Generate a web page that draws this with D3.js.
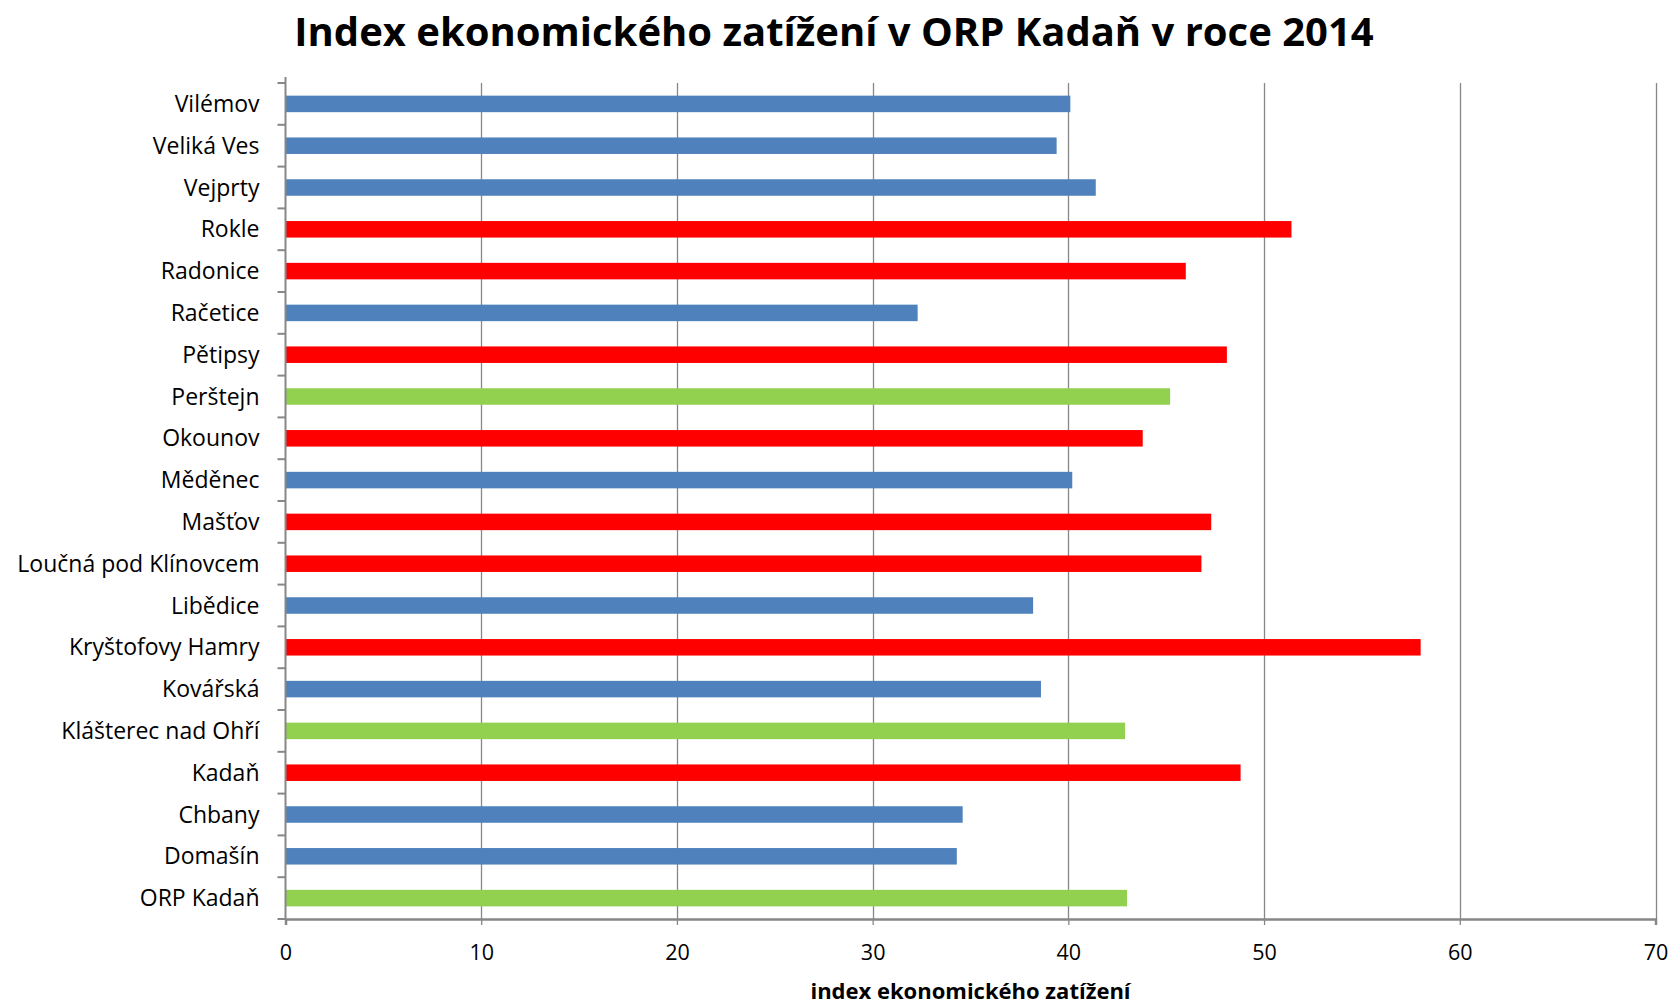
<!DOCTYPE html>
<html><head><meta charset="utf-8">
<script src="https://cdn.jsdelivr.net/npm/d3@7/dist/d3.min.js"></script>
<style>
html,body{margin:0;padding:0;background:#fff;}
svg{display:block;}
text{font-family:"Open Sans",Lato,sans-serif;fill:#000;}
</style></head><body>
<svg id="c" width="1673" height="1005"></svg>
<script>
const categories = ["Vilémov","Veliká Ves","Vejprty","Rokle","Radonice","Račetice","Pětipsy","Perštejn","Okounov","Měděnec","Mašťov","Loučná pod Klínovcem","Libědice","Kryštofovy Hamry","Kovářská","Klášterec nad Ohří","Kadaň","Chbany","Domašín","ORP Kadaň"];
const values = [40.1,39.4,41.4,51.4,46.0,32.3,48.1,45.2,43.8,40.2,47.3,46.8,38.2,58.0,38.6,42.9,48.8,34.6,34.3,43.0];
const groups = ["low","low","low","high","high","low","high","orp","high","low","high","high","low","high","low","orp","high","low","low","orp"];
const groupNames = ["low","high","orp"];
const groupColors = ["#4F81BD","#FF0000","#92D050"];
const xTicks = [0,10,20,30,40,50,60,70];
const title = "Index ekonomického zatížení v ORP Kadaň v roce 2014";
const xTitle = "index ekonomického zatížení";

const svg = d3.select("#c");
const m = {left:285.5, right:1655.5, top:83, bottom:919};
const x = d3.scaleLinear().domain([0,70]).range([m.left,m.right]);
const y = d3.scaleBand().domain(categories).range([m.top,m.bottom]).paddingInner(0.605).paddingOuter(0.3025);
const color = d3.scaleOrdinal().domain(groupNames).range(groupColors);

// gridlines
svg.append("g").selectAll("line").data(xTicks.slice(1)).join("line")
  .attr("x1",d=>Math.round(x(d))+0.5).attr("x2",d=>Math.round(x(d))+0.5)
  .attr("y1",m.top).attr("y2",m.bottom)
  .attr("stroke","#878787").attr("stroke-width",1.3);

// bars
svg.append("g").selectAll("rect").data(categories).join("rect")
  .attr("x",x(0)).attr("y",d=>y(d))
  .attr("width",(d,i)=>x(values[i])-x(0))
  .attr("height",y.bandwidth())
  .attr("fill",(d,i)=>color(groups[i]));

// y axis
const yAxisG = svg.append("g").attr("transform",`translate(${m.left},0)`);
yAxisG.append("line").attr("x1",0).attr("x2",0).attr("y1",m.top-6).attr("y2",m.bottom)
  .attr("stroke","#878787").attr("stroke-width",2);
const bounds = d3.range(categories.length+1).map(i=>m.top + i*(m.bottom-m.top)/categories.length);
yAxisG.selectAll("line.tk").data(bounds).join("line").attr("class","tk")
  .attr("x1",-8).attr("x2",0).attr("y1",d=>d).attr("y2",d=>d)
  .attr("stroke","#878787").attr("stroke-width",2);
yAxisG.selectAll("text").data(categories).join("text")
  .attr("x",-26).attr("y",d=>y(d)+y.bandwidth()/2)
  .attr("dy","0.35em").attr("text-anchor","end")
  .style("font-size","23px").text(d=>d);

// x axis
const xAxis = d3.axisBottom(x).tickValues(xTicks).tickSize(6).tickPadding(20).tickFormat(d3.format("d"));
const xg = svg.append("g").attr("transform",`translate(0,${m.bottom})`).call(xAxis);
xg.select(".domain").attr("stroke","#878787").attr("stroke-width",2.5);
xg.selectAll(".tick line").attr("stroke","#878787").attr("stroke-width",1.3);
xg.selectAll(".tick text").style("font-size","21.5px").style("font-family","'Open Sans', Lato, sans-serif").attr("fill","#000");

// titles
svg.append("text").attr("x",834).attr("y",46).attr("text-anchor","middle")
  .style("font-size","40px").style("font-weight","bold").text(title);
svg.append("text").attr("x",(m.left+m.right)/2).attr("y",999).attr("text-anchor","middle")
  .style("font-size","22px").style("font-weight","bold").text(xTitle);
</script>
</body></html>
